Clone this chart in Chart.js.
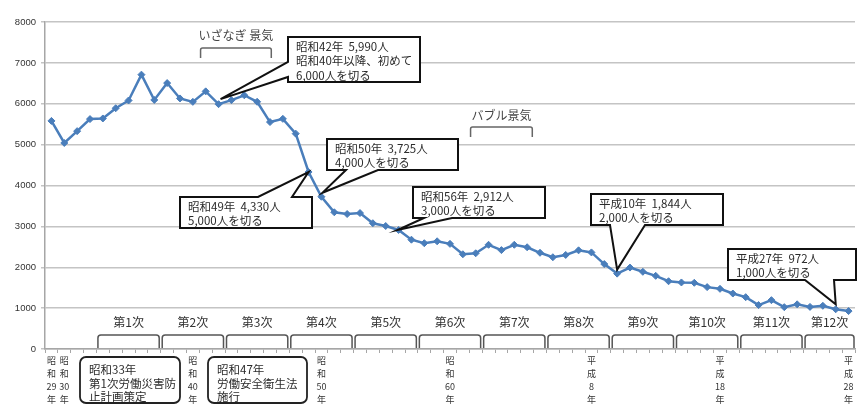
<!DOCTYPE html>
<html>
<head>
<meta charset="utf-8">
<script src="https://cdn.jsdelivr.net/npm/chart.js@4"></script>
<style>
html,body{margin:0;padding:0;background:#fff;}
#c{display:block;}
</style>
</head>
<body>
<canvas id="c" width="860" height="408"></canvas>
<script>
// ---- data ----
const years = [
 '昭和29年','昭和30年','昭和31年','昭和32年','昭和33年','昭和34年','昭和35年','昭和36年','昭和37年','昭和38年',
 '昭和39年','昭和40年','昭和41年','昭和42年','昭和43年','昭和44年','昭和45年','昭和46年','昭和47年','昭和48年',
 '昭和49年','昭和50年','昭和51年','昭和52年','昭和53年','昭和54年','昭和55年','昭和56年','昭和57年','昭和58年',
 '昭和59年','昭和60年','昭和61年','昭和62年','昭和63年','平成元年','平成2年','平成3年','平成4年','平成5年',
 '平成6年','平成7年','平成8年','平成9年','平成10年','平成11年','平成12年','平成13年','平成14年','平成15年',
 '平成16年','平成17年','平成18年','平成19年','平成20年','平成21年','平成22年','平成23年','平成24年','平成25年',
 '平成26年','平成27年','平成28年'
];
const deaths = [
 5580, 5040, 5330, 5625, 5640, 5890, 6080, 6712, 6093, 6506,
 6130, 6046, 6303, 5990, 6088, 6208, 6048, 5552, 5631, 5269,
 4330, 3725, 3345, 3302, 3326, 3077, 3009, 2912, 2674, 2588,
 2635, 2572, 2318, 2342, 2549, 2419, 2550, 2489, 2354, 2245,
 2301, 2414, 2363, 2078, 1844, 1992, 1889, 1790, 1658, 1628,
 1620, 1514, 1472, 1357, 1268, 1075, 1195, 1024, 1093, 1030,
 1057, 972, 928
];
const shownTicks = ['昭和29年','昭和30年','昭和40年','昭和50年','昭和60年','平成8年','平成18年','平成28年'];
const yTicks = [0, 1000, 2000, 3000, 4000, 5000, 6000, 7000, 8000];

const planNames = ['第1次','第2次','第3次','第4次','第5次','第6次','第7次','第8次','第9次','第10次','第11次','第12次'];
const planStarts = ['昭和33年','昭和38年','昭和43年','昭和48年','昭和53年','昭和58年','昭和63年','平成5年','平成10年','平成15年','平成20年','平成25年'];
const planLength = 5;

const boomNames = ['いざなぎ 景気', 'バブル景気'];

const calloutYears = ['昭和42年','昭和50年','昭和49年','昭和56年','平成10年','平成27年'];
const calloutTexts = [
 ['昭和42年  5,990人', '昭和40年以降、初めて', '6,000人を切る'],
 ['昭和50年  3,725人', '4,000人を切る'],
 ['昭和49年  4,330人', '5,000人を切る'],
 ['昭和56年  2,912人', '3,000人を切る'],
 ['平成10年  1,844人', '2,000人を切る'],
 ['平成27年  972人', '1,000人を切る']
];
const noteTexts = [
 ['昭和33年', '第1次労働災害防', '止計画策定'],
 ['昭和47年', '労働安全衛生法', '施行']
];

// ---- layout (positions / styles only) ----
const JP = "'Noto Sans CJK JP', 'Noto Sans', sans-serif";
const boomLayout = [
 {from: 11.6, to: 17.1, top: 48, leg: 10, textY: 35},
 {from: 32.6, to: 37.4, top: 127, leg: 10, textY: 115}
];
const calloutLayout = [
 {l: 288, t: 37, r: 420, b: 82, edge: 'left', a: 62, c: 77, dx: 2, dy: -5},
 {l: 327, t: 139, r: 458, b: 170, edge: 'bottom', a: 346, c: 378, dx: 1, dy: -4},
 {l: 180, t: 197, r: 312, b: 228, edge: 'top', a: 258, c: 292, dx: 0, dy: 0},
 {l: 413, t: 187, r: 545, b: 218, edge: 'bottom', a: 424, c: 452, dx: -1, dy: 0},
 {l: 591, t: 194, r: 723, b: 225, edge: 'bottom', a: 610, c: 645, dx: 0, dy: -4},
 {l: 728, t: 249, r: 856, b: 280, edge: 'bottom', a: 805, c: 834, dx: 0, dy: -5}
];
const noteLayout = [
 {l: 80, t: 357, r: 180, b: 403},
 {l: 208, t: 357, r: 307, b: 403}
];

function splitVertical(s) {
  return s.match(/\d+|\D/g);
}

function drawCallout(ctx, L, tip, lines) {
  ctx.beginPath();
  ctx.moveTo(L.l, L.t);
  if (L.edge === 'top') { ctx.lineTo(L.a, L.t); ctx.lineTo(tip.x, tip.y); ctx.lineTo(L.c, L.t); }
  ctx.lineTo(L.r, L.t);
  ctx.lineTo(L.r, L.b);
  if (L.edge === 'bottom') { ctx.lineTo(L.c, L.b); ctx.lineTo(tip.x, tip.y); ctx.lineTo(L.a, L.b); }
  ctx.lineTo(L.l, L.b);
  if (L.edge === 'left') { ctx.lineTo(L.l, L.c); ctx.lineTo(tip.x, tip.y); ctx.lineTo(L.l, L.a); }
  ctx.closePath();
  ctx.fillStyle = '#fff';
  ctx.fill();
  ctx.lineJoin = 'miter';
  ctx.lineWidth = 2;
  ctx.strokeStyle = '#111';
  ctx.stroke();
  ctx.fillStyle = '#2b2b2b';
  ctx.font = `11.5px ${JP}`;
  ctx.textAlign = 'left';
  ctx.textBaseline = 'middle';
  const lh = 14.5;
  const startY = L.t + 9.5;
  lines.forEach((t, i) => ctx.fillText(t, L.l + 8, startY + i * lh));
}

const annotPlugin = {
  id: 'annot',
  afterDraw(chart) {
    const {ctx, chartArea: ca, scales} = chart;
    const x = scales.x, y = scales.y;
    const half = (x.getPixelForValue(1) - x.getPixelForValue(0)) / 2;
    ctx.save();

    // plan brackets
    planStarts.forEach((st, i) => {
      const idx = years.indexOf(st);
      const l = x.getPixelForValue(idx) - half + 1.5;
      const r = Math.min(x.getPixelForValue(idx + planLength - 1) + half - 1.5, ca.right - 1);
      const top = ca.bottom - 14, bot = ca.bottom - 1, rad = 3;
      ctx.beginPath();
      ctx.moveTo(l, bot);
      ctx.lineTo(l, top + rad);
      ctx.quadraticCurveTo(l, top, l + rad, top);
      ctx.lineTo(r - rad, top);
      ctx.quadraticCurveTo(r, top, r, top + rad);
      ctx.lineTo(r, bot);
      ctx.strokeStyle = '#555';
      ctx.lineWidth = 1.5;
      ctx.stroke();
      ctx.fillStyle = '#333';
      ctx.font = `12px ${JP}`;
      ctx.textAlign = 'center';
      ctx.textBaseline = 'middle';
      ctx.fillText(planNames[i], (l + r) / 2, top - 13);
    });

    // boom brackets
    boomNames.forEach((nm, i) => {
      const B = boomLayout[i];
      const l = x.getPixelForValue(B.from), r = x.getPixelForValue(B.to);
      const rad = 2;
      ctx.beginPath();
      ctx.moveTo(l, B.top + B.leg);
      ctx.lineTo(l, B.top + rad);
      ctx.quadraticCurveTo(l, B.top, l + rad, B.top);
      ctx.lineTo(r - rad, B.top);
      ctx.quadraticCurveTo(r, B.top, r, B.top + rad);
      ctx.lineTo(r, B.top + B.leg);
      ctx.strokeStyle = '#666';
      ctx.lineWidth = 1.5;
      ctx.stroke();
      ctx.fillStyle = '#444';
      ctx.font = `12px ${JP}`;
      ctx.textAlign = 'center';
      ctx.textBaseline = 'middle';
      ctx.fillText(nm, (l + r) / 2, B.textY);
    });

    // callouts
    calloutYears.forEach((yr, i) => {
      const idx = years.indexOf(yr);
      const L = calloutLayout[i];
      const tip = {x: x.getPixelForValue(idx) + L.dx, y: y.getPixelForValue(deaths[idx]) + L.dy};
      drawCallout(ctx, L, tip, calloutTexts[i]);
    });

    // notes under the axis
    noteTexts.forEach((lines, i) => {
      const N = noteLayout[i];
      ctx.beginPath();
      ctx.roundRect(N.l, N.t, N.r - N.l, N.b - N.t, 6);
      ctx.fillStyle = '#fff';
      ctx.fill();
      ctx.lineWidth = 1.8;
      ctx.strokeStyle = '#222';
      ctx.stroke();
      ctx.fillStyle = '#2b2b2b';
      ctx.font = `11.5px ${JP}`;
      ctx.textAlign = 'left';
      ctx.textBaseline = 'middle';
      lines.forEach((t, j) => ctx.fillText(t, N.l + 9, N.t + 13 + j * 13.5));
    });

    ctx.restore();
  }
};

new Chart(document.getElementById('c'), {
  type: 'line',
  data: {
    labels: years,
    datasets: [{
      data: deaths,
      borderColor: '#4a7ebb',
      backgroundColor: '#4a7ebb',
      borderWidth: 2.5,
      pointStyle: 'rectRot',
      pointRadius: 3.5,
      pointBorderWidth: 1,
      pointBorderColor: '#4a7ebb',
      tension: 0,
      fill: false
    }]
  },
  options: {
    responsive: false,
    devicePixelRatio: 1,
    animation: false,
    layout: {padding: {left: 0, right: 3, top: 22, bottom: 0}},
    plugins: {legend: {display: false}, tooltip: {enabled: false}},
    scales: {
      x: {
        offset: true,
        grid: {offset: true, drawOnChartArea: false, drawTicks: true, tickLength: 4, color: '#a6a6a6', lineWidth: 1},
        border: {display: true, color: '#a6a6a6', width: 1.5},
        ticks: {
          autoSkip: false, maxRotation: 0, minRotation: 0, padding: 1,
          color: '#333',
          font: {family: JP, size: 9, lineHeight: 1.45},
          callback: (v, i) => shownTicks.includes(years[i]) ? splitVertical(years[i]) : ''
        },
        afterFit: s => { s.height = 59; }
      },
      y: {
        min: 0, max: 8000,
        afterBuildTicks: s => { s.ticks = yTicks.map(v => ({value: v})); },
        grid: {color: '#c4c4c4', lineWidth: 1.5, tickLength: 4},
        border: {display: true, color: '#a6a6a6', width: 1.5},
        ticks: {
          color: '#333', padding: 5,
          font: {family: "'Liberation Sans', Arial, sans-serif", size: 9.5},
          callback: v => String(v)
        },
        afterFit: s => { s.width = 45; }
      }
    }
  },
  plugins: [annotPlugin]
});
</script>
</body>
</html>
